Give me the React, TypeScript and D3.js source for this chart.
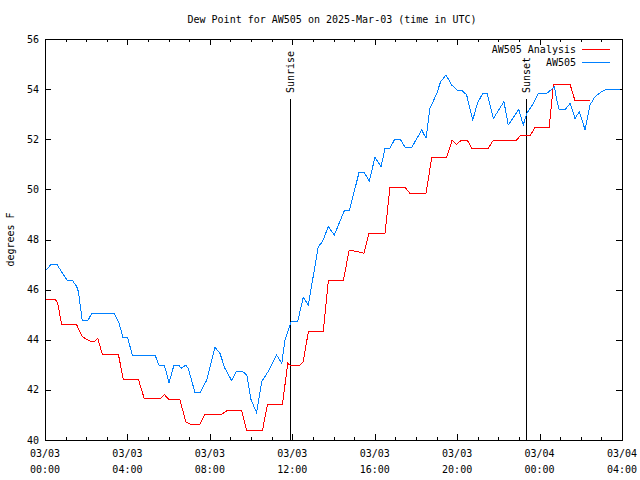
import React from "react";
import * as d3 from "d3";

const TITLE = "Dew Point for AW505 on 2025-Mar-03 (time in UTC)";
const Y_LABEL = "degrees F";
const SERIES_NAMES = ["AW505 Analysis", "AW505"];

// hours since 03/03 00:00 UTC
const analysisHours = [0, 0.52, 0.62, 0.81, 1.54, 1.81, 2.18, 2.43, 2.56, 2.78, 3.56, 3.8, 4.53, 4.82, 5.58, 5.79, 6.02, 6.55, 6.83, 7.04, 7.52, 7.76, 8.57, 8.82, 9.55, 9.79, 10.55, 10.79, 11.52, 11.78, 11.89, 12.37, 12.53, 12.78, 13.5, 13.75, 14.48, 14.76, 15.2, 15.48, 15.72, 16.5, 16.74, 17.47, 17.71, 18.49, 18.77, 19.49, 19.76, 19.97, 20.22, 20.49, 20.71, 21.51, 21.76, 22.89, 23.05, 23.54, 23.78, 24.47, 24.67, 25.48, 25.72, 26.45];
const analysisValues = [45.59, 45.59, 45.45, 44.59, 44.59, 44.12, 43.95, 43.95, 44.06, 43.42, 43.42, 42.43, 42.43, 41.64, 41.64, 41.82, 41.6, 41.6, 40.73, 40.63, 40.63, 41.03, 41.03, 41.16, 41.16, 40.36, 40.36, 41.4, 41.4, 43.06, 42.99, 42.99, 43.12, 44.32, 44.32, 46.36, 46.36, 47.58, 47.51, 47.45, 48.25, 48.25, 50.08, 50.08, 49.84, 49.84, 51.28, 51.28, 51.97, 51.8, 51.97, 51.97, 51.64, 51.64, 51.97, 51.97, 52.13, 52.13, 52.48, 52.48, 54.19, 54.19, 53.53, 53.53];

const stationHours = [0, 0.29, 0.58, 1.07, 1.32, 1.54, 1.62, 1.81, 2.07, 2.27, 3.35, 3.59, 3.79, 4.01, 4.24, 5.34, 5.53, 5.79, 6.02, 6.26, 6.5, 6.6, 6.83, 6.95, 7.28, 7.52, 7.85, 8.25, 8.49, 8.73, 9.06, 9.3, 9.55, 9.79, 10.0, 10.27, 10.52, 10.84, 11.24, 11.49, 11.65, 11.81, 11.94, 12.26, 12.53, 12.78, 13.26, 13.46, 13.75, 14.04, 14.52, 14.77, 15.24, 15.49, 15.74, 16.01, 16.31, 16.5, 16.74, 16.95, 17.23, 17.47, 17.8, 18.28, 18.49, 18.68, 19.01, 19.2, 19.46, 19.74, 20.01, 20.22, 20.46, 20.76, 20.98, 21.24, 21.46, 21.76, 22.27, 22.48, 22.7, 22.99, 23.21, 23.38, 23.7, 23.94, 24.35, 24.64, 24.72, 24.83, 24.96, 25.23, 25.48, 25.72, 25.93, 26.21, 26.45, 26.69, 27.01, 27.29, 27.9];
const stationValues = [46.74, 47.0, 47.0, 46.38, 46.38, 46.12, 45.92, 44.75, 44.75, 45.05, 45.05, 44.66, 44.08, 44.08, 43.39, 43.39, 42.99, 42.99, 42.29, 42.99, 42.99, 42.86, 42.99, 42.86, 41.89, 41.89, 42.39, 43.7, 43.46, 42.86, 42.37, 42.75, 42.75, 42.6, 41.6, 41.09, 42.33, 42.75, 43.39, 43.06, 44.0, 44.39, 44.72, 44.72, 45.69, 45.39, 47.71, 47.91, 48.51, 48.18, 49.14, 49.14, 50.68, 50.68, 50.33, 51.28, 50.91, 51.64, 51.64, 51.97, 52.01, 51.68, 51.68, 52.37, 52.04, 53.23, 53.83, 54.3, 54.56, 54.16, 53.96, 53.96, 53.77, 52.77, 53.43, 53.83, 53.83, 52.83, 53.5, 52.57, 52.83, 53.19, 52.57, 53.04, 53.43, 53.83, 53.83, 54.03, 54.1, 53.57, 53.17, 53.17, 53.43, 52.83, 53.1, 52.37, 53.37, 53.7, 53.9, 54.0, 54.0];

const eventNames = ["Sunrise", "Sunset"];
const eventHours = [11.88, 23.34];

const xMajorTicks = [0, 4, 8, 12, 16, 20, 24, 28];
const xTickDates = ["03/03", "03/03", "03/03", "03/03", "03/03", "03/03", "03/04", "03/04"];
const xTickTimes = ["00:00", "04:00", "08:00", "12:00", "16:00", "20:00", "00:00", "04:00"];
const yTicks = [40, 42, 44, 46, 48, 50, 52, 54, 56];

const COLORS = ["#ff0000", "#0080ff"];
const FONT = "'DejaVu Sans Mono', monospace";

export default function App() {
  const left = 45, right = 622, top = 39, bottom = 440;
  const x = d3.scaleLinear().domain([0, 28]).range([left, right]);
  const y = d3.scaleLinear().domain([40, 56]).range([bottom, top]);
  const minorTicks = d3.range(0, 29).filter((h) => h % 4 !== 0);

  const line = d3
    .line<[number, number]>()
    .x((d) => x(d[0]))
    .y((d) => y(d[1]));
  const analysisPath = line(analysisHours.map((h, i) => [h, analysisValues[i]]) as [number, number][]);
  const stationPath = line(stationHours.map((h, i) => [h, stationValues[i]]) as [number, number][]);

  const px = (v: number) => Math.round(v) + 0.5;

  return (
    <svg width={640} height={480} style={{ position: "absolute", left: 0, top: 0, background: "#fff" }} fontFamily={FONT} fontSize={10}>
      <rect x={0} y={0} width={640} height={480} fill="#fff" />
      <text x={332} y={23} textAnchor="middle">{TITLE}</text>
      <text transform={`translate(14,${(top + bottom) / 2}) rotate(-90)`} textAnchor="middle">{Y_LABEL}</text>

      {/* y ticks */}
      {yTicks.map((t) => (
        <g key={"y" + t}>
          <line x1={left} x2={left + 6} y1={px(y(t))} y2={px(y(t))} stroke="#000" shapeRendering="crispEdges" />
          <line x1={right - 6} x2={right} y1={px(y(t))} y2={px(y(t))} stroke="#000" shapeRendering="crispEdges" />
          <text x={left - 6} y={y(t)} textAnchor="end" dominantBaseline="central">{t}</text>
        </g>
      ))}

      {/* x ticks */}
      {xMajorTicks.map((t, i) => (
        <g key={"x" + t}>
          <line x1={px(x(t))} x2={px(x(t))} y1={bottom} y2={bottom - 6} stroke="#000" shapeRendering="crispEdges" />
          <line x1={px(x(t))} x2={px(x(t))} y1={top} y2={top + 6} stroke="#000" shapeRendering="crispEdges" />
          <text x={x(t)} y={457} textAnchor="middle">{xTickDates[i]}</text>
          <text x={x(t)} y={473} textAnchor="middle">{xTickTimes[i]}</text>
        </g>
      ))}
      {minorTicks.map((t) => (
        <g key={"m" + t}>
          <line x1={px(x(t))} x2={px(x(t))} y1={bottom} y2={bottom - 3} stroke="#000" shapeRendering="crispEdges" />
          <line x1={px(x(t))} x2={px(x(t))} y1={top} y2={top + 3} stroke="#000" shapeRendering="crispEdges" />
        </g>
      ))}

      {/* events */}
      {eventNames.map((n, i) => (
        <g key={n}>
          <line x1={px(x(eventHours[i]))} x2={px(x(eventHours[i]))} y1={bottom} y2={99} stroke="#000" shapeRendering="crispEdges" />
          <text transform={`translate(${x(eventHours[i]) + 1},93) rotate(-90)`} dominantBaseline="central">{n}</text>
        </g>
      ))}

      <path d={analysisPath || ""} fill="none" stroke={COLORS[0]} strokeWidth={1} shapeRendering="crispEdges" />
      <path d={stationPath || ""} fill="none" stroke={COLORS[1]} strokeWidth={1} shapeRendering="crispEdges" />

      {/* legend */}
      {SERIES_NAMES.map((n, i) => (
        <g key={n}>
          <text x={576} y={49 + i * 13} textAnchor="end" dominantBaseline="central">{n}</text>
          <line x1={582} x2={610} y1={49.5 + i * 13} y2={49.5 + i * 13} stroke={COLORS[i]} shapeRendering="crispEdges" />
        </g>
      ))}

      <rect x={left + 0.5} y={top + 0.5} width={right - left} height={bottom - top} fill="none" stroke="#000" shapeRendering="crispEdges" />
    </svg>
  );
}
